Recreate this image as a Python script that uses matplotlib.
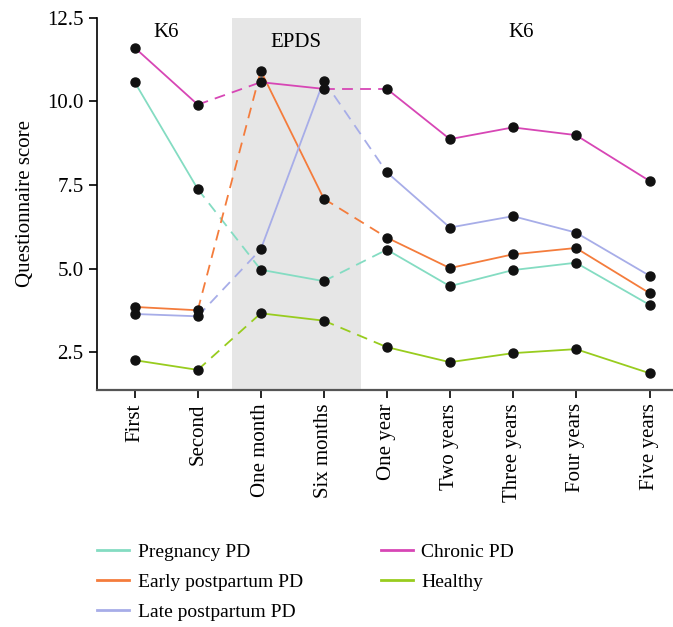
import matplotlib.pyplot as plt
from matplotlib.lines import Line2D

plt.rcParams['font.family'] = ['Liberation Serif', 'DejaVu Serif']

# time points (Five years sits a bit further out on the axis)
labels = ['First', 'Second', 'One month', 'Six months', 'One year',
          'Two years', 'Three years', 'Four years', 'Five years']
xpos = [0, 1, 2, 3, 4, 5, 6, 7, 8.17]

pregnancy = [10.57, 7.38, 4.97, 4.63, 5.57, 4.48, 4.96, 5.18, 3.92]
early = [3.86, 3.76, 10.91, 7.09, 5.93, 5.02, 5.43, 5.62, 4.27]
late = [3.65, 3.58, 5.58, 10.62, 7.88, 6.23, 6.57, 6.08, 4.79]
chronic = [11.6, 9.9, 10.57, 10.37, 10.37, 8.87, 9.22, 8.99, 7.62]
healthy = [2.27, 1.98, 3.67, 3.45, 2.66, 2.21, 2.48, 2.60, 1.88]

names = ['Pregnancy PD', 'Early postpartum PD', 'Late postpartum PD', 'Chronic PD', 'Healthy']
series = [pregnancy, early, late, chronic, healthy]
colors = ['#84dcc2', '#f47c3c', '#a7ade8', '#d746b5', '#98cc1e']

# solid within a questionnaire block, dashed between blocks
blocks = [(0, 2), (2, 4), (4, 9)]
bridges = [(1, 3), (3, 5)]

fig = plt.figure(figsize=(6.73, 6.27), dpi=100)
ax = fig.add_axes([0.144, 0.378, 0.856, 0.594])

ax.axvspan(1.54, 3.59, color='#e6e6e6', lw=0, zorder=0)

for vals, c in zip(series, colors):
    for a, b in blocks:
        ax.plot(xpos[a:b], vals[a:b], color=c, lw=1.3, zorder=2)
    for a, b in bridges:
        ax.plot(xpos[a:b], vals[a:b], color=c, lw=1.3, ls=(0, (6, 4)), zorder=2)
for vals in series:
    ax.plot(xpos, vals, ls='none', marker='o', ms=6.5, color='#111111', zorder=3)

ax.text(0.5, 12.04, 'K6', ha='center', va='center', fontsize=15)
ax.text(2.56, 11.77, 'EPDS', ha='center', va='center', fontsize=15)
ax.text(6.13, 12.04, 'K6', ha='center', va='center', fontsize=15)

ax.set_xlim(-0.6, 8.54)
ax.set_ylim(1.38, 12.5)
ax.set_yticks([2.5, 5.0, 7.5, 10.0, 12.5])
ax.set_yticklabels(['2.5', '5.0', '7.5', '10.0', '12.5'])
ax.set_xticks(xpos)
ax.set_xticklabels(labels, rotation=90)
ax.tick_params(labelsize=15, length=6, width=1.2)
ax.set_ylabel('Questionnaire score', fontsize=15, labelpad=9)

ax.spines['top'].set_visible(False)
ax.spines['right'].set_visible(False)
ax.spines['bottom'].set_color('#555555')
ax.spines['bottom'].set_linewidth(1.6)
ax.spines['left'].set_linewidth(1.2)

handles = [Line2D([], [], color=c, lw=2) for c in colors]
fig.legend(handles, names, ncol=2, frameon=False, fontsize=14,
           loc='upper left', bbox_to_anchor=(0.144, 0.133),
           borderpad=0, borderaxespad=0,
           handlelength=1.65, handletextpad=0.45, columnspacing=4.0,
           labelspacing=0.62)

fig.savefig('out.png', dpi=100)
